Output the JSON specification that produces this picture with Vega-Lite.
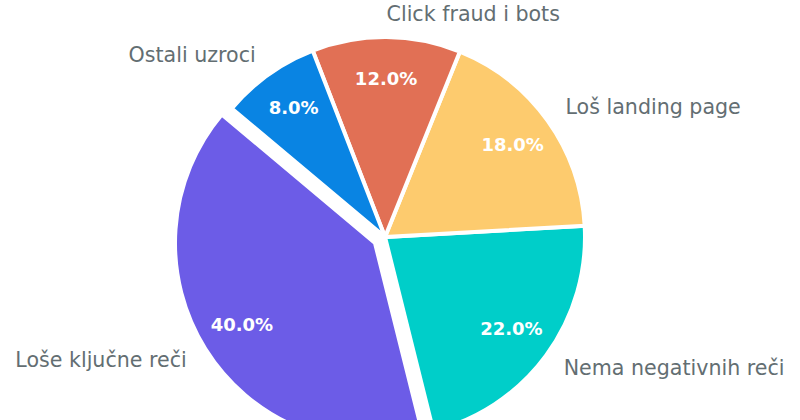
{
  "$schema": "https://vega.github.io/schema/vega-lite/v6.json",
  "width": 770,
  "height": 370,
  "autosize": {"type": "none"},
  "padding": {"left": 0, "top": 52, "right": 30, "bottom": 0},
  "background": "white",
  "config": {"view": {"stroke": null}, "font": "DejaVu Sans"},
  "data": {
    "values": [
      {"cause": "Loše ključne reči", "share": 0.40},
      {"cause": "Nema negativnih reči", "share": 0.22},
      {"cause": "Loš landing page", "share": 0.18},
      {"cause": "Click fraud i bots", "share": 0.12},
      {"cause": "Ostali uzroci", "share": 0.08}
    ]
  },
  "encoding": {
    "theta": {"field": "share", "type": "quantitative", "stack": true, "scale": {"domain": [0, 1], "range": [5.4105, 11.6937]}},
    "order": {"field": "share", "type": "quantitative", "sort": "ascending"}
  },
  "layer": [
    {
      "mark": {"type": "arc", "outerRadius": 200, "stroke": "white", "strokeWidth": 4},
      "encoding": {
        "color": {"field": "cause", "type": "nominal", "legend": null,
          "scale": {"domain": ["Loše ključne reči", "Nema negativnih reči", "Loš landing page", "Click fraud i bots", "Ostali uzroci"],
                    "range": ["#6c5ce7", "#00cec9", "#fdcb6e", "#e17055", "#0984e3"]}},
        "opacity": {"condition": {"test": "datum.cause === 'Loše ključne reči'", "value": 0}, "value": 1}
      }
    },
    {
      "mark": {"type": "arc", "outerRadius": 200, "stroke": "white", "strokeWidth": 4, "xOffset": -10, "yOffset": 6},
      "encoding": {
        "color": {"field": "cause", "type": "nominal", "legend": null},
        "opacity": {"condition": {"test": "datum.cause === 'Loše ključne reči'", "value": 1}, "value": 0}
      }
    },
    {
      "mark": {"type": "text", "radius": 157, "fontSize": 18, "fontWeight": "bold", "fill": "white", "align": "center", "baseline": "middle"},
      "encoding": {
        "text": {"field": "share", "type": "quantitative", "format": ".1%"},
        "opacity": {"condition": {"test": "datum.cause === 'Loše ključne reči'", "value": 0}, "value": 1}
      }
    },
    {
      "mark": {"type": "text", "radius": 157, "fontSize": 18, "fontWeight": "bold", "fill": "white", "align": "center", "baseline": "middle", "xOffset": -10, "yOffset": 6},
      "encoding": {
        "text": {"field": "share", "type": "quantitative", "format": ".1%"},
        "opacity": {"condition": {"test": "datum.cause === 'Loše ključne reči'", "value": 1}, "value": 0}
      }
    },
    {
      "mark": {"type": "text", "radius": 222, "fontSize": 20.6, "fill": "#636e72", "align": "left", "baseline": "middle"},
      "encoding": {
        "text": {"field": "cause", "type": "nominal"},
        "opacity": {"condition": {"test": "datum.cause === 'Loše ključne reči' || datum.cause === 'Ostali uzroci'", "value": 0}, "value": 1}
      }
    },
    {
      "mark": {"type": "text", "radius": 222, "fontSize": 20.6, "fill": "#636e72", "align": "right", "baseline": "middle"},
      "encoding": {
        "text": {"field": "cause", "type": "nominal"},
        "opacity": {"condition": {"test": "datum.cause === 'Ostali uzroci'", "value": 1}, "value": 0}
      }
    },
    {
      "mark": {"type": "text", "radius": 222, "fontSize": 20.6, "fill": "#636e72", "align": "right", "baseline": "middle", "xOffset": -10, "yOffset": 6},
      "encoding": {
        "text": {"field": "cause", "type": "nominal"},
        "opacity": {"condition": {"test": "datum.cause === 'Loše ključne reči'", "value": 1}, "value": 0}
      }
    }
  ]
}
